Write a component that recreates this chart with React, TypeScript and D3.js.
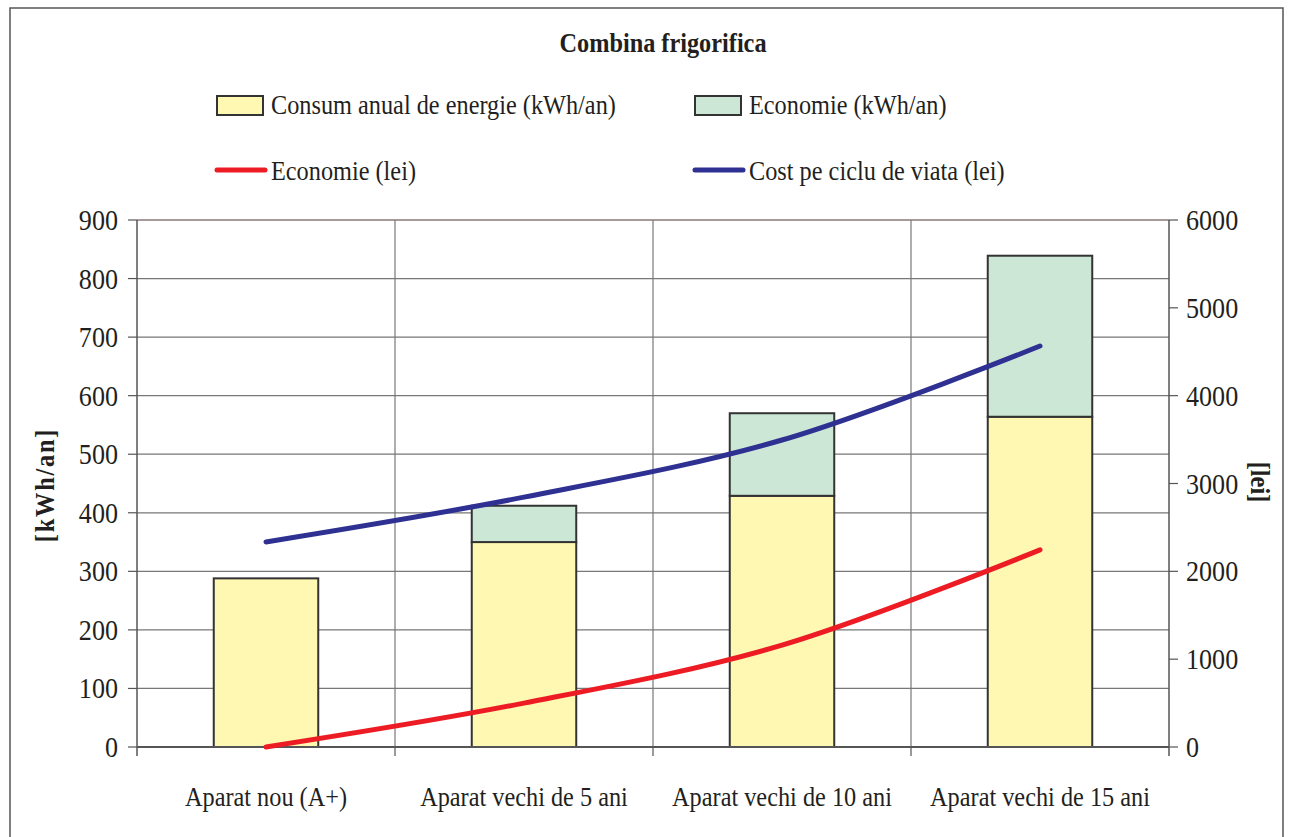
import * as d3 from 'd3';
import {useMemo} from 'react';

const WIDTH = 1289;
const HEIGHT = 837;

const categories = ['Aparat nou (A+)', 'Aparat vechi de 5 ani', 'Aparat vechi de 10 ani', 'Aparat vechi de 15 ani'];
const consumKwh = [288, 350, 429, 564];
const economieKwh = [0, 62, 141, 275];
const economieLei = [0, 500, 1160, 2245];
const costCiclu = [2335, 2845, 3495, 4565];

const leftTicks = [0, 100, 200, 300, 400, 500, 600, 700, 800, 900];
const rightTicks = [0, 1000, 2000, 3000, 4000, 5000, 6000];

const legendBars = [
  {label: 'Consum anual de energie (kWh/an)', fill: '#fff8b2'},
  {label: 'Economie (kWh/an)', fill: '#cde7d6'},
];
const legendLines = [
  {label: 'Economie (lei)', color: '#ed1c24'},
  {label: 'Cost pe ciclu de viata (lei)', color: '#2e3192'},
];

const M = {left: 137, right: 1169, top: 220, bottom: 747};
const FONT = '"Liberation Serif", "DejaVu Serif", serif';

type TProps = {
  x: number;
  y: number;
  size?: number;
  anchor?: 'start' | 'middle' | 'end';
  weight?: string;
  rotate?: number;
  spacing?: number;
  children: string;
};

// text is a bit narrower than the serif font, so squeeze it horizontally
function T({x, y, size = 27, anchor = 'start', weight = 'normal', rotate = 0, spacing = 0, children}: TProps) {
  return (
    <text
      transform={`translate(${x},${y}) rotate(${rotate}) scale(0.9,1)`}
      textAnchor={anchor}
      fontFamily={FONT}
      fontSize={size}
      fontWeight={weight}
      letterSpacing={spacing}
      fill="#231f20"
    >
      {children}
    </text>
  );
}

function App() {
  const x = useMemo(
    () => d3.scaleBand<string>().domain(categories).range([M.left, M.right]).padding(0),
    [],
  );
  const yL = useMemo(() => d3.scaleLinear().domain([0, 900]).range([M.bottom, M.top]), []);
  const yR = useMemo(() => d3.scaleLinear().domain([0, 6000]).range([M.bottom, M.top]), []);

  const bw = x.bandwidth() * 0.405;
  const cx = (c: string) => x(c)! + x.bandwidth() / 2;

  const line = d3
    .line<[string, number]>()
    .x(([c]) => cx(c))
    .y(([, v]) => yR(v))
    .curve(d3.curveCatmullRom.alpha(0.5));

  const redPath = line(categories.map((c, i) => [c, economieLei[i]]));
  const bluePath = line(categories.map((c, i) => [c, costCiclu[i]]));

  const bounds = [...categories.map((c) => x(c)!), M.right];

  return (
    <svg width={WIDTH} height={HEIGHT} style={{position: 'absolute', left: 0, top: 0, background: '#fff'}}>
      <rect x={10} y={8} width={1273} height={840} fill="#fff" stroke="#555" strokeWidth={1.5} />

      <T x={663} y={52} size={27} anchor="middle" weight="bold">Combina frigorifica</T>

      {legendBars.map((d, i) => {
        const lx = [217, 695][i];
        return (
          <g key={d.label}>
            <rect x={lx} y={96} width={46} height={19} fill={d.fill} stroke="#333" strokeWidth={2} />
            <T x={lx + 54} y={114}>{d.label}</T>
          </g>
        );
      })}
      {legendLines.map((d, i) => {
        const lx = [217, 695][i];
        return (
          <g key={d.label}>
            <line x1={lx} x2={lx + 48} y1={170} y2={170} stroke={d.color} strokeWidth={5} strokeLinecap="round" />
            <T x={lx + 54} y={180}>{d.label}</T>
          </g>
        );
      })}

      {/* grid */}
      {leftTicks.map((t) => (
        <line key={t} x1={M.left} x2={M.right} y1={yL(t)} y2={yL(t)} stroke={t === 900 ? '#a89a9a' : '#777'} strokeWidth={t === 900 ? 2 : 1.2} />
      ))}
      {bounds.slice(1, -1).map((b) => (
        <line key={b} x1={b} x2={b} y1={M.top} y2={M.bottom} stroke="#777" strokeWidth={1.2} />
      ))}

      {/* bars */}
      {categories.map((c, i) => (
        <g key={c}>
          <rect
            x={cx(c) - bw / 2}
            y={yL(consumKwh[i])}
            width={bw}
            height={yL(0) - yL(consumKwh[i])}
            fill="#fff8b2"
            stroke="#333"
            strokeWidth={2}
          />
          {economieKwh[i] > 0 && (
            <rect
              x={cx(c) - bw / 2}
              y={yL(consumKwh[i] + economieKwh[i])}
              width={bw}
              height={yL(consumKwh[i]) - yL(consumKwh[i] + economieKwh[i])}
              fill="#cde7d6"
              stroke="#333"
              strokeWidth={2}
            />
          )}
        </g>
      ))}

      {/* axes */}
      <line x1={M.left} x2={M.right} y1={M.bottom} y2={M.bottom} stroke="#555" strokeWidth={2} />
      <line x1={M.left} x2={M.left} y1={M.top} y2={M.bottom + 9} stroke="#555" strokeWidth={1.5} />
      <line x1={M.right} x2={M.right} y1={M.top} y2={M.bottom + 9} stroke="#555" strokeWidth={1.5} />
      {bounds.slice(1, -1).map((b) => (
        <line key={b} x1={b} x2={b} y1={M.bottom} y2={M.bottom + 9} stroke="#555" strokeWidth={1.2} />
      ))}
      {leftTicks.map((t) => (
        <g key={t}>
          <line x1={M.left - 9} x2={M.left} y1={yL(t)} y2={yL(t)} stroke="#555" strokeWidth={1.2} />
          <T x={118} y={yL(t) + 10} size={29} anchor="end">{String(t)}</T>
        </g>
      ))}
      {rightTicks.map((t) => (
        <g key={t}>
          <line x1={M.right} x2={M.right + 9} y1={yR(t)} y2={yR(t)} stroke="#555" strokeWidth={1.2} />
          <T x={1186} y={yR(t) + 10} size={29}>{String(t)}</T>
        </g>
      ))}

      {/* lines */}
      <path d={redPath!} fill="none" stroke="#ed1c24" strokeWidth={5} strokeLinecap="round" />
      <path d={bluePath!} fill="none" stroke="#2e3192" strokeWidth={5} strokeLinecap="round" />

      {categories.map((c) => (
        <T key={c} x={cx(c)} y={806} anchor="middle">{c}</T>
      ))}

      <T x={54} y={485} rotate={-90} anchor="middle" weight="bold" spacing={2}>[kWh/an]</T>
      <T x={1251} y={482} rotate={90} anchor="middle" weight="bold">[lei]</T>
    </svg>
  );
}

export default App;
